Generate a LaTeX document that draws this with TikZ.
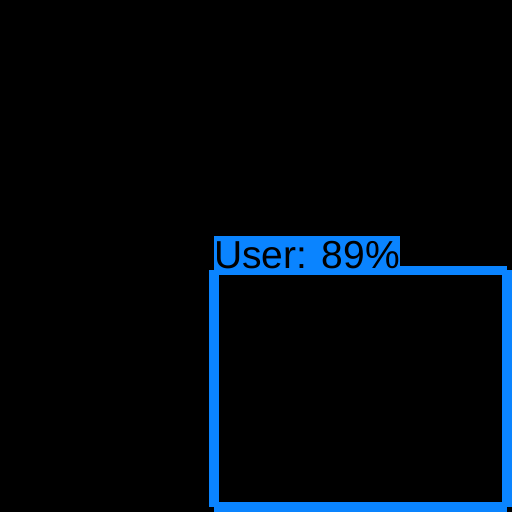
\documentclass[tikz,border=0pt]{standalone}
\usepackage{fontspec}
\setmainfont{Liberation Sans}
\definecolor{boxblue}{RGB}{10,132,255}
\tikzset{
  framebox/.style={draw=boxblue, line width=5pt},
  labelfill/.style={fill=boxblue, draw=none},
  labeltext/.style={inner sep=0pt, anchor=base west, text=black, font=\fontsize{39}{42}\selectfont}
}
\begin{document}
\begin{tikzpicture}[x=1pt,y=-1pt]
\fill[black] (0,0) rectangle (512,512);
\useasboundingbox (0,0) rectangle (512,512);
\draw[framebox] (211.5,272.5) rectangle (509.5,504.5);
\draw[framebox] (216.5,268.5) rectangle (504.5,509.5);
\path[labelfill] (214,236) rectangle (400,268.5);
\node[labeltext] (lbl) at (214,268) {User: 89\%};
\end{tikzpicture}
\end{document}
